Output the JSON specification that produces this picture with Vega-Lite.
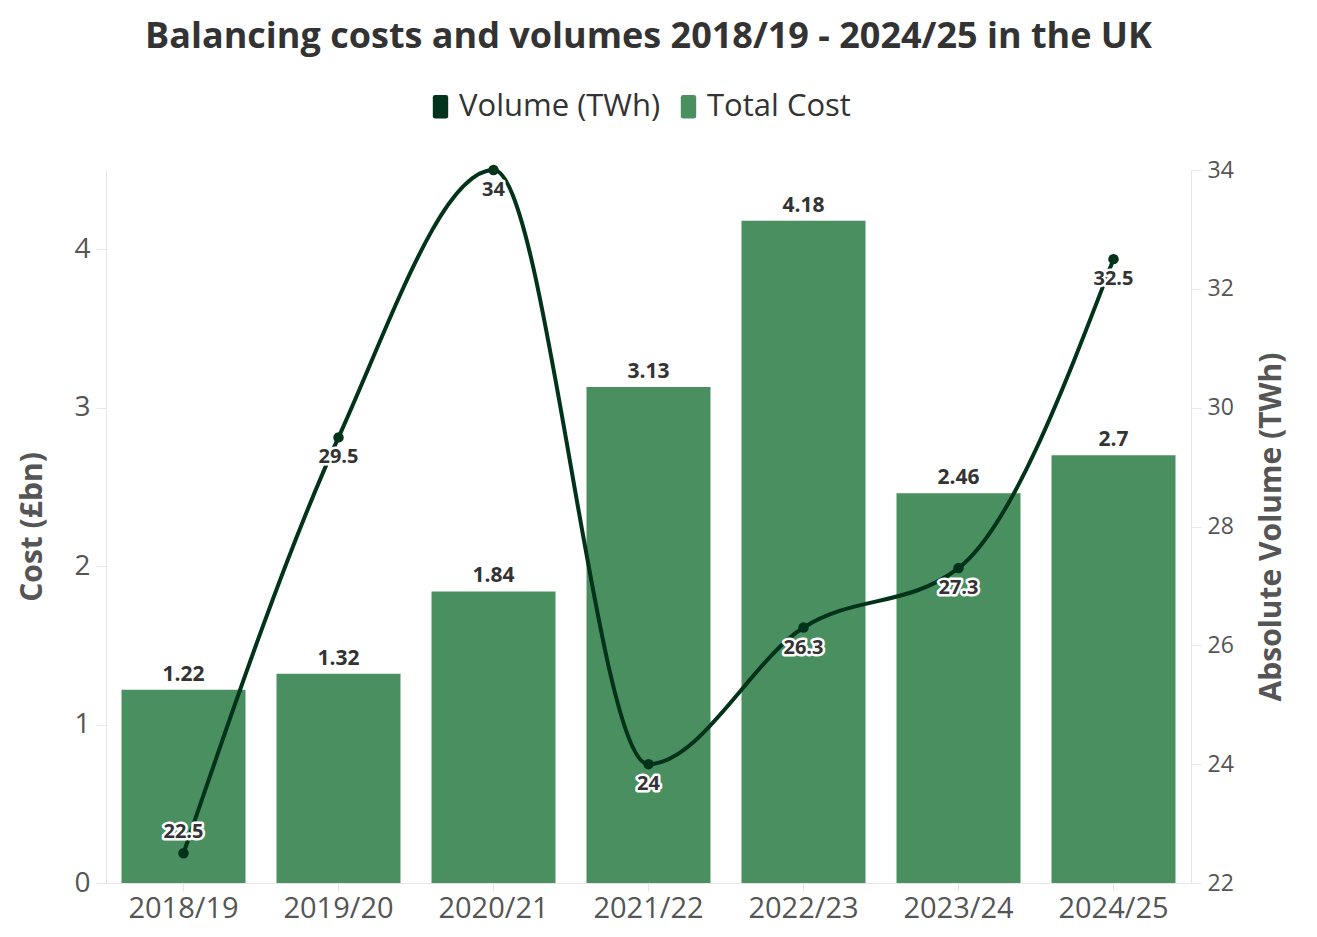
{
  "$schema": "https://vega.github.io/schema/vega-lite/v6.json",
  "width": 1085,
  "height": 713,
  "padding": {"left": 17, "top": 19, "right": 10, "bottom": 5},
  "background": "white",
  "config": {
    "font": "Open Sans",
    "view": {"stroke": null},
    "axis": {
      "grid": false,
      "domainColor": "#e6e6e6",
      "tickColor": "#e6e6e6",
      "labelColor": "#555555",
      "titleColor": "#555555",
      "labelFont": "Open Sans",
      "titleFont": "Open Sans"
    }
  },
  "title": {
    "text": "Balancing costs and volumes 2018/19 - 2024/25 in the UK",
    "font": "Open Sans",
    "fontSize": 36,
    "fontWeight": "bold",
    "color": "#333333",
    "offset": 35
  },
  "data": {
    "values": [
      {"year": "2018/19", "cost": 1.22, "volume": 22.5},
      {"year": "2019/20", "cost": 1.32, "volume": 29.5},
      {"year": "2020/21", "cost": 1.84, "volume": 34},
      {"year": "2021/22", "cost": 3.13, "volume": 24},
      {"year": "2022/23", "cost": 4.18, "volume": 26.3},
      {"year": "2023/24", "cost": 2.46, "volume": 27.3},
      {"year": "2024/25", "cost": 2.7, "volume": 32.5}
    ]
  },
  "encoding": {
    "x": {
      "field": "year",
      "type": "ordinal",
      "title": null,
      "scale": {"paddingInner": 0.2, "paddingOuter": 0.1},
      "axis": {"labelAngle": 0, "labelFontSize": 29, "labelPadding": 3, "tickSize": 8}
    }
  },
  "layer": [
    {
      "layer": [
        {
          "mark": {"type": "bar"},
          "encoding": {
            "y": {
              "field": "cost",
              "type": "quantitative",
              "title": "Cost (£bn)",
              "scale": {"domain": [0, 4.5], "nice": false},
              "axis": {"values": [0, 1, 2, 3, 4], "format": "d", "labelFontSize": 28, "titleFontSize": 30, "titleFontWeight": "bold", "tickSize": 10, "labelPadding": 6, "titlePadding": 26}
            },
            "color": {
              "datum": "Total Cost",
              "scale": {"domain": ["Volume (TWh)", "Total Cost"], "range": ["#00331a", "#4a8f60"]},
              "legend": {
                "title": null,
                "orient": "none",
                "legendX": 319,
                "legendY": -79,
                "direction": "horizontal",
                "labelFontSize": 31,
                "labelFont": "Open Sans",
                "labelColor": "#333333",
                "labelLimit": 400,
                "symbolType": "M-0.65,-0.8 Q-0.65,-1 -0.45,-1 L0.45,-1 Q0.65,-1 0.65,-0.8 L0.65,0.8 Q0.65,1 0.45,1 L-0.45,1 Q-0.65,1 -0.65,0.8 Z",
                "symbolSize": 560,
                "symbolStrokeWidth": 0,
                "labelOffset": 3,
                "columnPadding": 12,
                "encode": {
                  "symbols": {
                    "update": {
                      "fill": {"signal": "datum.value === 'Total Cost' ? '#007a3d' : '#00331a'"},
                      "stroke": {"value": null},
                      "opacity": {"value": 1}
                    }
                  }
                }
              }
            }
          }
        },
        {
          "mark": {"type": "text", "baseline": "bottom", "dy": -5, "fontSize": 21, "fontWeight": "bold", "color": "#333333"},
          "encoding": {
            "y": {"field": "cost", "type": "quantitative"},
            "text": {"field": "cost", "type": "quantitative"}
          }
        }
      ]
    },
    {
      "layer": [
        {
          "mark": {"type": "line", "interpolate": "monotone", "strokeWidth": 4},
          "encoding": {
            "y": {
              "field": "volume",
              "type": "quantitative",
              "title": "Absolute Volume (TWh)",
              "scale": {"domain": [22, 34], "nice": false, "zero": false},
              "axis": {"orient": "right", "values": [22, 24, 26, 28, 30, 32, 34], "format": "d", "labelFontSize": 23, "titleFontSize": 30, "titleFontWeight": "bold", "titleAngle": 270, "titleBaseline": "bottom", "tickSize": 10, "labelPadding": 6, "titlePadding": 53}
            },
            "color": {"datum": "Volume (TWh)"}
          }
        },
        {
          "mark": {"type": "point", "filled": true, "size": 110, "opacity": 1, "color": "#00331a"},
          "encoding": {"y": {"field": "volume", "type": "quantitative"}}
        },
        {
          "transform": [{"filter": "datum.volume >= 23"}],
          "mark": {"type": "text", "dy": 20, "fontSize": 20, "fontWeight": "bold", "stroke": "white", "strokeWidth": 5, "strokeJoin": "round", "fill": "white"},
          "encoding": {
            "y": {"field": "volume", "type": "quantitative"},
            "text": {"field": "volume", "type": "quantitative"}
          }
        },
        {
          "transform": [{"filter": "datum.volume >= 23"}],
          "mark": {"type": "text", "dy": 20, "fontSize": 20, "fontWeight": "bold", "color": "#333333"},
          "encoding": {
            "y": {"field": "volume", "type": "quantitative"},
            "text": {"field": "volume", "type": "quantitative"}
          }
        },
        {
          "transform": [{"filter": "datum.volume < 23"}],
          "mark": {"type": "text", "dy": -21, "fontSize": 20, "fontWeight": "bold", "stroke": "white", "strokeWidth": 5, "strokeJoin": "round", "fill": "white"},
          "encoding": {
            "y": {"field": "volume", "type": "quantitative"},
            "text": {"field": "volume", "type": "quantitative"}
          }
        },
        {
          "transform": [{"filter": "datum.volume < 23"}],
          "mark": {"type": "text", "dy": -21, "fontSize": 20, "fontWeight": "bold", "color": "#333333"},
          "encoding": {
            "y": {"field": "volume", "type": "quantitative"},
            "text": {"field": "volume", "type": "quantitative"}
          }
        }
      ]
    }
  ],
  "resolve": {"scale": {"y": "independent"}}
}
